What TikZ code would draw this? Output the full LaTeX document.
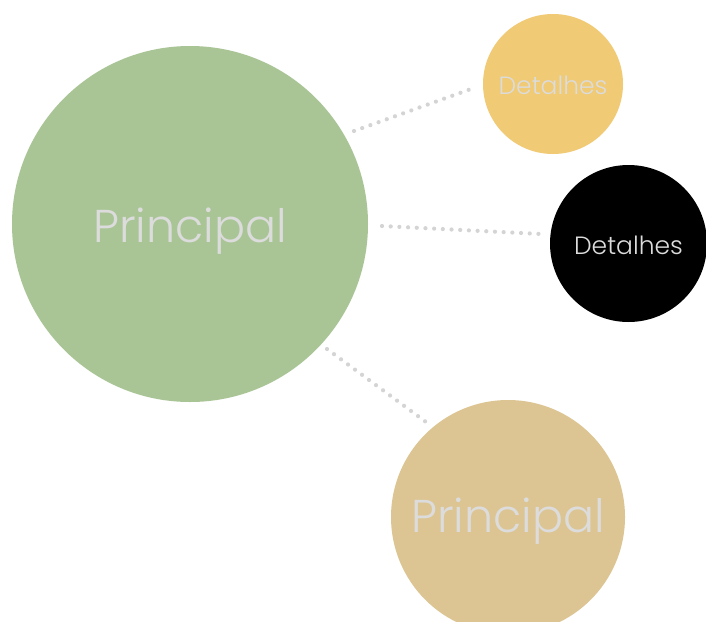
\documentclass[tikz,border=0pt]{standalone}
\usepackage{fontspec}
\setmainfont{Poppins}[UprightFont={* Light}]
\definecolor{cgreen}{HTML}{A9C596}
\definecolor{cyellow}{HTML}{F0CA74}
\definecolor{ctan}{HTML}{DCC592}
\definecolor{ctext}{HTML}{DCDCDC}
\definecolor{cdot}{HTML}{D4D4D4}
\tikzset{
  bubble/.style={circle, inner sep=0pt, text=ctext},
  lbl/.style={text=ctext, inner sep=0pt},
  bigtext/.style={font=\fontsize{46}{54}\selectfont},
  smalltext/.style={font=\fontsize{25}{30}\selectfont},
  dotline/.style={cdot, line width=4.2pt, line cap=round, dash pattern=on 0pt off 8.7pt},
}
\begin{document}
\begin{tikzpicture}[x=1pt,y=-1pt]
\useasboundingbox (0,0) rectangle (706,621);
\fill[white] (0,0) rectangle (706,621);
\node[bubble, fill=cgreen, minimum size=356pt] (main) at (190,224) {};
\node[lbl, bigtext] (mainlbl) at ([yshift=-7pt]main.center) {Principal};
\node[bubble, fill=cyellow, minimum size=140pt] (d1) at (553,84) {};
\node[lbl, smalltext] (d1lbl) at ([yshift=-1pt]d1.center) {Detalhes};
\node[bubble, fill=black, minimum size=157pt] (d2) at (628.5,243.5) {};
\node[lbl, smalltext] (d2lbl) at ([yshift=-1.5pt]d2.center) {Detalhes};
\node[bubble, fill=ctan, minimum size=234pt] (main2) at (508,517) {};
\node[lbl, bigtext] (main2lbl) at ([yshift=-4pt]main2.center) {Principal};
\coordinate (a1) at (354,131); \coordinate (b1) at (471,89);
\coordinate (a2) at (382,226); \coordinate (b2) at (541,234);
\coordinate (a3) at (327,349); \coordinate (b3) at (426,422);
\draw[dotline] (a1) -- (b1);
\draw[dotline] (a2) -- (b2);
\draw[dotline] (a3) -- (b3);
\end{tikzpicture}
\end{document}
